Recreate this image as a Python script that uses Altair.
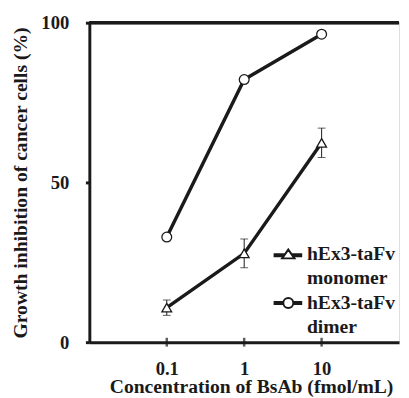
import altair as alt
import pandas as pd

conc = [0.1, 1, 10]
monomer = [10.8, 27.8, 62.4]
monomer_err = [2.4, 4.5, 4.6]
dimer = [32.9, 82.2, 96.4]
x_ticks = [0.1, 1, 10]
y_ticks = [0, 50, 100]
series = ["monomer", "dimer"]
# legend rows: first line / second line of each entry
legend_keys = ["hEx3-taFv#1", "monomer#1", "hEx3-taFv#2", "dimer#2"]

rows = []
for c, m, e in zip(conc, monomer, monomer_err):
    rows.append({"conc": c, "value": m, "lo": m - e, "hi": m + e, "series": series[0]})
for c, d in zip(conc, dimer):
    rows.append({"conc": c, "value": d, "lo": d, "hi": d, "series": series[1]})
df = pd.DataFrame(rows)
mono_df = df[df["series"] == series[0]]
tick_df = pd.DataFrame({"t": x_ticks})
leg_df = pd.DataFrame({"key": legend_keys, "conc": conc + [1], "value": [0, 0, 0, 0]})

ink = "#1a1a1a"
font = "Liberation Serif"

xscale = alt.Scale(type="log", domain=[10 ** -1.5, 10 ** 1.4155])
yscale = alt.Scale(domain=[0, 100])

x = alt.X(
    "conc:Q",
    scale=xscale,
    axis=alt.Axis(
        values=x_ticks, format="~g", title="Concentration of BsAb (fmol/mL)",
        grid=False, ticks=False, labelPadding=18,
        titleX=165, titleY=45, titleBaseline="middle",
        labelFontSize=19, titleFontSize=20,
    ),
)
y = alt.Y(
    "value:Q",
    scale=yscale,
    axis=alt.Axis(
        values=y_ticks, title="Growth inhibition of cancer cells (%)",
        grid=False, tickSize=4, tickWidth=3, labelPadding=17, titlePadding=11,
        labelFontSize=19, titleFontSize=20,
    ),
)

base = alt.Chart(df)

lines = base.mark_line(color=ink, strokeWidth=3.5).encode(x=x, y=y, detail="series:N")

err_rule = alt.Chart(mono_df).mark_rule(color=ink, strokeWidth=1).encode(
    x="conc:Q", y="lo:Q", y2="hi:Q"
)
cap_lo = alt.Chart(mono_df).mark_tick(color=ink, thickness=1, size=8, orient="horizontal").encode(
    x="conc:Q", y="lo:Q"
)
cap_hi = alt.Chart(mono_df).mark_tick(color=ink, thickness=1, size=8, orient="horizontal").encode(
    x="conc:Q", y="hi:Q"
)

points = base.mark_point(filled=True, fill="white", stroke=ink, strokeWidth=1.3, opacity=1).encode(
    x="conc:Q", y="value:Q",
    shape=alt.Shape("series:N", scale=alt.Scale(domain=series, range=["triangle-up", "circle"]), legend=None),
    size=alt.value(100),
)

tri_path = (
    "M-2.33,0.03H-0.85V0.37H-2.33Z M0.85,0.03H2.2V0.37H0.85Z "
    "M0,-0.75L1.05,0.75L-1.05,0.75Z"
)
cir_path = (
    "M-2.33,-0.17H-0.85V0.17H-2.33Z M0.85,-0.17H2.2V0.17H0.85Z "
    "M0.85,0A0.85,0.85 0 1,1 -0.85,0A0.85,0.85 0 1,1 0.85,0Z"
)
blank_path = "M0,0"

legend_layer = alt.Chart(leg_df).mark_point(filled=False, stroke=ink, strokeWidth=2).encode(
    x="conc:Q", y="value:Q",
    shape=alt.Shape(
        "key:N",
        scale=alt.Scale(domain=legend_keys, range=[tri_path, blank_path, cir_path, blank_path]),
        legend=alt.Legend(
            title=None, orient="none", legendX=193, legendY=226,
            labelExpr="split(datum.label, '#')[0]",
            labelFont=font, labelFontWeight="bold", labelFontSize=20, labelColor=ink,
            labelBaseline="middle", labelOffset=9,
            symbolSize=144, symbolStrokeColor=ink,
            symbolStrokeWidth=2, symbolOpacity=1, rowPadding=5, padding=0,
            labelLimit=300,
        ),
    ),
).transform_filter("false")

top_rule = alt.Chart(tick_df).mark_rule(color=ink, strokeWidth=3).encode(y=alt.datum(100))

x_tick_marks = alt.Chart(tick_df).mark_tick(color=ink, thickness=2.5, size=9, orient="vertical").encode(
    x=alt.X("t:Q"), y=alt.datum(0)
)

chart = (
    alt.layer(lines, err_rule, cap_lo, cap_hi, x_tick_marks, top_rule, points, legend_layer)
    .resolve_scale(shape="independent")
    .properties(width=316, height=326, padding={"left": 2, "top": 2, "right": 0, "bottom": 0})
    .configure_view(stroke=None)
    .configure(background="white")
    .configure_axis(
        domainColor=ink, domainWidth=3, tickColor=ink,
        labelFont=font, labelFontWeight="bold", labelColor=ink,
        titleFont=font, titleFontWeight="bold", titleColor=ink,
    )
)

chart.save("out.html", embed_options={"renderer": "svg", "actions": False})
